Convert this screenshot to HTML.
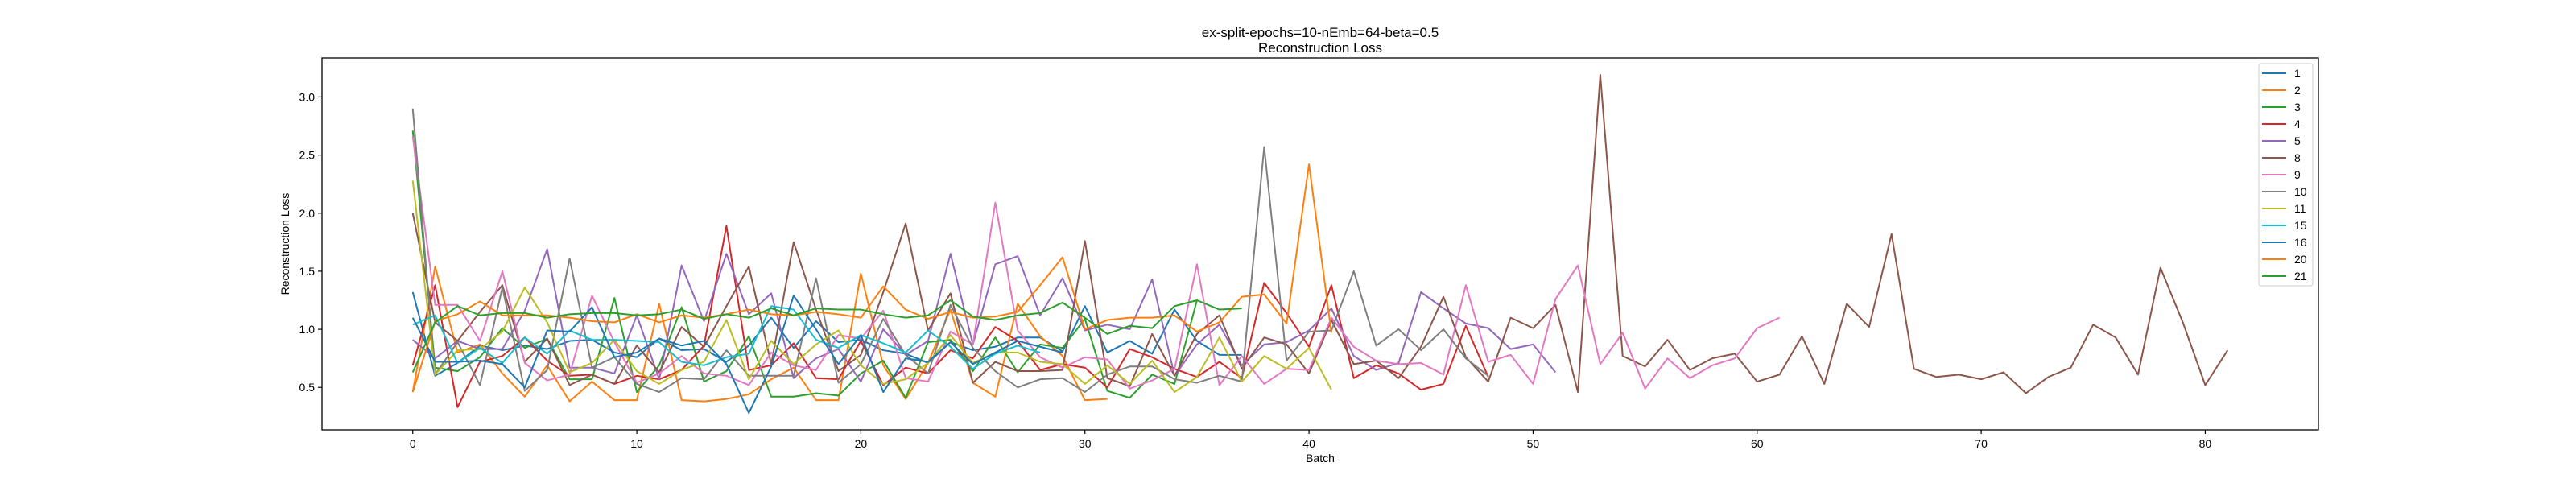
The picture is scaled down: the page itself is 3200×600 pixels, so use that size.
<!DOCTYPE html>
<html><head><meta charset="utf-8"><style>
html,body{margin:0;padding:0;background:#fff;}
svg{display:block;font-family:"Liberation Sans","DejaVu Sans",sans-serif;}
</style></head><body>
<svg id="chart" width="3200" height="600" viewBox="0 0 3200 600" xmlns="http://www.w3.org/2000/svg">
<rect x="0" y="0" width="3200" height="600" fill="#fff"/>
<text x="1640" y="46" font-size="17" text-anchor="middle" fill="#000">ex-split-epochs=10-nEmb=64-beta=0.5</text>
<text x="1640" y="65" font-size="17" text-anchor="middle" fill="#000">Reconstruction Loss</text>
<g id="plot"></g>
<g id="axes"></g>
<g id="legend"></g>
<text x="1640" y="574" font-size="14" text-anchor="middle" fill="#000">Batch</text>
<text x="0" y="0" font-size="14" text-anchor="middle" fill="#000" transform="translate(359,303) rotate(-90)">Reconstruction Loss</text>
</svg>
<script>
const seriesLabels = ["1","2","3","4","5","8","9","10","11","15","16","20","21"];
const seriesColors = ["#1f77b4","#ff7f0e","#2ca02c","#d62728","#9467bd","#8c564b","#e377c2","#7f7f7f","#bcbd22","#17becf","#1f77b4","#ff7f0e","#2ca02c"];
const s1 = [1.32,0.60,0.71,0.86,0.82,0.86,0.83,0.90,0.91,0.80,0.76,0.92,0.82,0.83,0.72,0.86,1.10,0.84,1.07,0.89,0.91,0.82,0.79,0.71,0.89,0.82,0.85,0.93,0.93,0.81,1.20,0.80,0.90,0.79,1.17,0.90,0.78,0.78];
const s2 = [0.46,1.54,0.80,0.87,0.62,0.42,0.69,0.38,0.55,0.39,0.39,1.22,0.39,0.38,0.40,0.44,0.57,0.67,0.39,0.39,1.48,0.69,0.40,0.71,1.17,0.54,0.42,1.22,0.94,0.77,0.39,0.40];
const s3 = [2.71,0.67,0.64,0.76,1.01,0.84,0.92,0.57,0.57,1.27,0.46,0.69,1.19,0.55,0.64,0.94,0.42,0.42,0.45,0.43,0.62,0.73,0.41,0.89,0.91,0.64,0.93,0.63,0.87,0.84,1.09,0.47,0.41,0.61,0.53,1.25];
const s4 = [0.69,1.38,0.33,0.72,0.77,0.93,0.73,0.60,0.61,0.53,0.60,0.57,0.65,0.86,1.89,0.65,0.69,0.88,0.58,0.57,0.90,0.52,0.67,0.62,0.82,0.75,1.02,0.90,0.65,0.70,0.67,0.50,0.83,0.76,0.66,0.59,0.72,0.58,1.40,1.14,0.85,1.38,0.58,0.69,0.62,0.48,0.53,1.03,0.59];
const s5 = [0.91,0.75,0.90,0.83,0.83,1.16,1.69,0.67,0.67,0.62,1.12,0.57,1.55,1.07,1.65,1.13,1.31,0.58,0.75,0.83,0.55,1.00,0.78,0.90,1.65,0.87,1.56,1.63,1.12,1.44,0.99,1.04,1.00,1.43,0.60,0.87,1.04,0.69,0.87,0.89,0.99,1.18,0.77,0.65,0.71,1.32,1.18,1.05,1.01,0.83,0.87,0.63];
const s8 = [2.00,1.06,0.90,1.15,1.38,0.72,0.92,0.52,0.61,0.53,0.86,0.63,1.02,0.85,1.20,1.54,0.70,1.75,1.17,0.64,0.78,1.32,1.91,0.99,1.31,0.54,0.72,0.64,0.64,0.65,1.76,0.58,0.51,0.96,0.60,0.96,1.12,0.66,0.93,0.87,0.62,1.08,0.70,0.73,0.58,0.85,1.28,0.76,0.55,1.10,1.01,1.21,0.46,3.19,0.77,0.68,0.91,0.65,0.75,0.79,0.55,0.61,0.94,0.53,1.22,1.02,1.82,0.66,0.59,0.61,0.57,0.63,0.45,0.59,0.67,1.04,0.93,0.61,1.53,1.06,0.52,0.82];
const s9 = [2.66,1.21,1.21,0.90,1.50,0.71,0.56,0.61,1.29,0.89,0.54,0.62,0.77,0.62,0.60,0.52,0.80,0.69,0.65,0.95,0.92,1.16,0.58,0.55,0.98,0.87,2.09,0.99,0.76,0.67,0.76,0.74,0.49,0.56,0.66,1.56,0.52,0.77,0.53,0.66,0.65,1.10,0.85,0.73,0.70,0.71,0.61,1.38,0.72,0.78,0.53,1.26,1.55,0.70,0.97,0.49,0.75,0.58,0.69,0.75,1.01,1.10];
const s10 = [2.90,0.61,0.89,0.52,1.36,0.47,0.65,1.61,0.67,0.76,0.53,0.46,0.58,0.57,0.82,0.60,0.60,0.60,1.44,0.54,0.70,1.09,0.78,0.62,1.21,0.84,0.64,0.50,0.57,0.58,0.46,0.61,0.68,0.68,0.57,0.54,0.60,0.55,2.57,0.73,0.98,0.99,1.50,0.86,1.00,0.82,1.00,0.75,0.60];
const s11 = [2.28,0.61,0.82,0.83,0.98,1.36,1.06,0.63,0.71,0.91,0.64,0.53,0.65,0.72,1.08,0.57,0.90,0.70,0.87,0.99,0.69,0.53,0.57,0.71,0.95,0.71,0.80,0.80,0.72,0.70,0.53,0.69,0.53,0.73,0.46,0.59,0.93,0.55,0.77,0.66,0.84,0.48];
const s15 = [1.04,1.12,0.71,0.84,0.71,0.93,0.79,0.99,0.91,0.91,0.90,0.89,0.72,0.69,0.76,0.79,1.20,1.17,0.91,0.84,0.95,0.88,0.80,0.99,0.85,0.66,0.79,0.86,0.80];
const s16 = [1.10,0.72,0.72,0.73,0.70,0.50,0.99,0.98,1.19,0.76,0.80,0.92,0.86,0.90,0.70,0.28,0.68,1.29,1.00,0.70,0.95,0.46,0.75,0.72,0.89,0.70,0.80,0.90,0.85,0.80];
const s20 = [0.46,1.07,1.13,1.24,1.12,1.12,1.12,1.10,1.07,1.06,1.13,1.06,1.12,1.10,1.13,1.17,1.13,1.12,1.15,1.13,1.10,1.37,1.17,1.09,1.15,1.10,1.11,1.15,1.38,1.62,1.00,1.08,1.10,1.10,1.12,0.98,1.06,1.28,1.30,1.05,2.42,0.97];
const s21 = [0.63,1.06,1.20,1.12,1.14,1.14,1.10,1.13,1.14,1.14,1.12,1.13,1.17,1.09,1.13,1.10,1.18,1.12,1.18,1.17,1.17,1.13,1.10,1.12,1.25,1.11,1.08,1.12,1.14,1.23,1.10,0.96,1.03,1.01,1.20,1.25,1.17,1.18];
const xTicks = [0,10,20,30,40,50,60,70,80];
const yTicks = [0.5,1.0,1.5,2.0,2.5,3.0];
const yTickLabels = ["0.5","1.0","1.5","2.0","2.5","3.0"];

const allSeries = [s1,s2,s3,s4,s5,s8,s9,s10,s11,s15,s16,s20,s21];
const NS = "http://www.w3.org/2000/svg";
const L = 400, R = 2880, T = 72, B = 534;
let xmax = 0, ymin = Infinity, ymax = -Infinity;
allSeries.forEach(s => { xmax = Math.max(xmax, s.length - 1); s.forEach(v => { ymin = Math.min(ymin, v); ymax = Math.max(ymax, v); }); });
const xm = xmax * 0.05, ym = (ymax - ymin) * 0.05;
const x0 = -xm, x1 = xmax + xm, y0 = ymin - ym, y1 = ymax + ym;
function xScale(i){ return L + (i - x0) / (x1 - x0) * (R - L); }
function yScale(v){ return B - (v - y0) / (y1 - y0) * (B - T); }
function mk(tag, attrs, parent){ const e = document.createElementNS(NS, tag); for (const k in attrs) e.setAttribute(k, attrs[k]); parent.appendChild(e); return e; }

const plot = document.getElementById('plot');
allSeries.forEach((s, k) => {
  const pts = s.map((v, i) => xScale(i).toFixed(2) + ',' + yScale(v).toFixed(2)).join(' ');
  const pl = mk('polyline', {points: pts, fill: 'none', stroke: seriesColors[k], 'stroke-width': 2, 'stroke-linejoin': 'round'}, plot);
  
  
});

const axes = document.getElementById('axes');
const frame = mk('rect', {x: L, y: T, width: R - L, height: B - T, fill: 'none', stroke: '#000', 'stroke-width': 1.3}, axes);


xTicks.forEach(t => {
  const x = xScale(t);
  const tk = mk('line', {x1: x, y1: B, x2: x, y2: B + 5, stroke: '#000', 'stroke-width': 1.2}, axes);
  
  
  const lb = mk('text', {x: x, y: B + 22, 'font-size': 14, 'text-anchor': 'middle', fill: '#000'}, axes);
  lb.textContent = String(t);
  
  
});
yTicks.forEach((t, i) => {
  const y = yScale(t);
  const tk = mk('line', {x1: L - 5, y1: y, x2: L, y2: y, stroke: '#000', 'stroke-width': 1.2}, axes);
  
  
  const lb = mk('text', {x: L - 9, y: y + 5, 'font-size': 14, 'text-anchor': 'end', fill: '#000'}, axes);
  lb.textContent = yTickLabels[i];
  
  
});

const legend = document.getElementById('legend');
const lbox = mk('rect', {x: 2806, y: 79, width: 67, height: 276, rx: 3, fill: '#fff', 'fill-opacity': 0.8, stroke: '#ccc', 'stroke-width': 1}, legend);


seriesLabels.forEach((lab, k) => {
  const y = 91 + k * 21;
  const ln = mk('line', {x1: 2810, y1: y, x2: 2840, y2: y, stroke: seriesColors[k], 'stroke-width': 2}, legend);
  
  
  const tx = mk('text', {x: 2850, y: y + 5, 'font-size': 14, fill: '#000'}, legend);
  tx.textContent = lab;
  
  
});
</script>
</body></html>
